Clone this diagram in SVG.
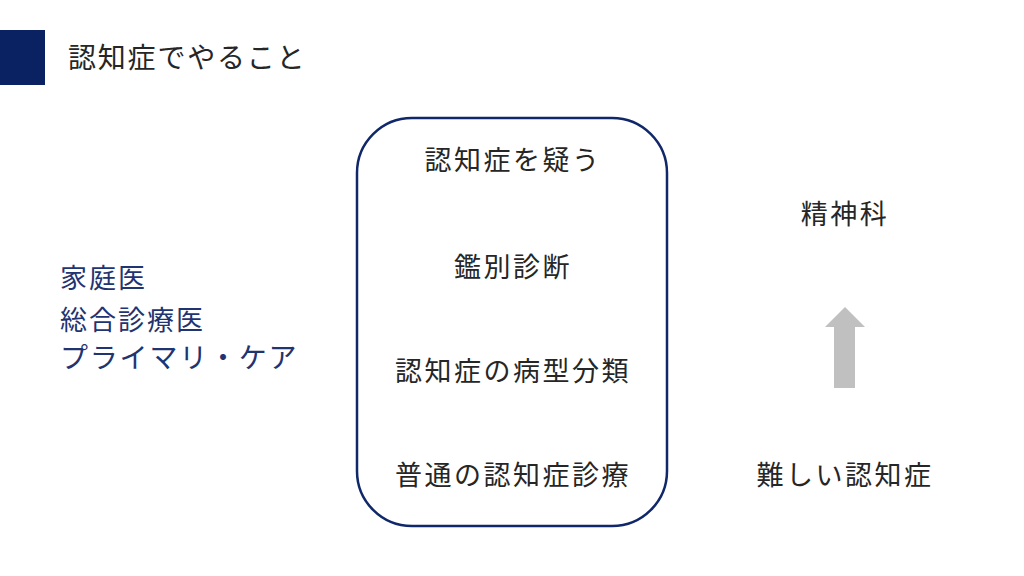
<svg xmlns="http://www.w3.org/2000/svg" width="1024" height="576" viewBox="0 0 1024 576">
<style>
text{font-family:"Noto Sans CJK JP","Noto Sans CJK SC",sans-serif;font-size:27px;letter-spacing:2.5px;}
.dark{fill:#262626;}
.navy{fill:#1f3470;}
.mid{text-anchor:middle;}
</style>
<rect width="1024" height="576" fill="#ffffff"/>
<g id="title">
<rect x="0" y="30" width="45" height="55" fill="#0b2262"/>
<text x="68" y="68" class="dark" style="font-size:28px;letter-spacing:1.8px">認知症でやること</text>
</g>
<g id="left">
<text x="60" y="288" class="navy" style="letter-spacing:2px">家庭医</text>
<text x="60" y="330" class="navy" style="letter-spacing:2px">総合診療医</text>
<text x="60" y="368" class="navy" style="font-size:28px;letter-spacing:1.8px">プライマリ・ケア</text>
</g>
<g id="process">
<rect x="357" y="118" width="310" height="408" rx="55" ry="55" fill="#ffffff" stroke="#10286a" stroke-width="2.5"/>
<text x="513" y="170" class="dark mid">認知症を疑う</text>
<text x="513" y="277" class="dark mid">鑑別診断</text>
<text x="513" y="381" class="dark mid">認知症の病型分類</text>
<text x="513" y="485" class="dark mid">普通の認知症診療</text>
</g>
<g id="psych">
<text x="845" y="224" class="dark mid">精神科</text>
</g>
<g id="hard">
<text x="845" y="485" class="dark mid">難しい認知症</text>
</g>
<g id="connectors">
<polygon points="845,307 865,327 855,327 855,388 834,388 834,327 825,327" fill="#c0c0c0"/>
</g>
</svg>
